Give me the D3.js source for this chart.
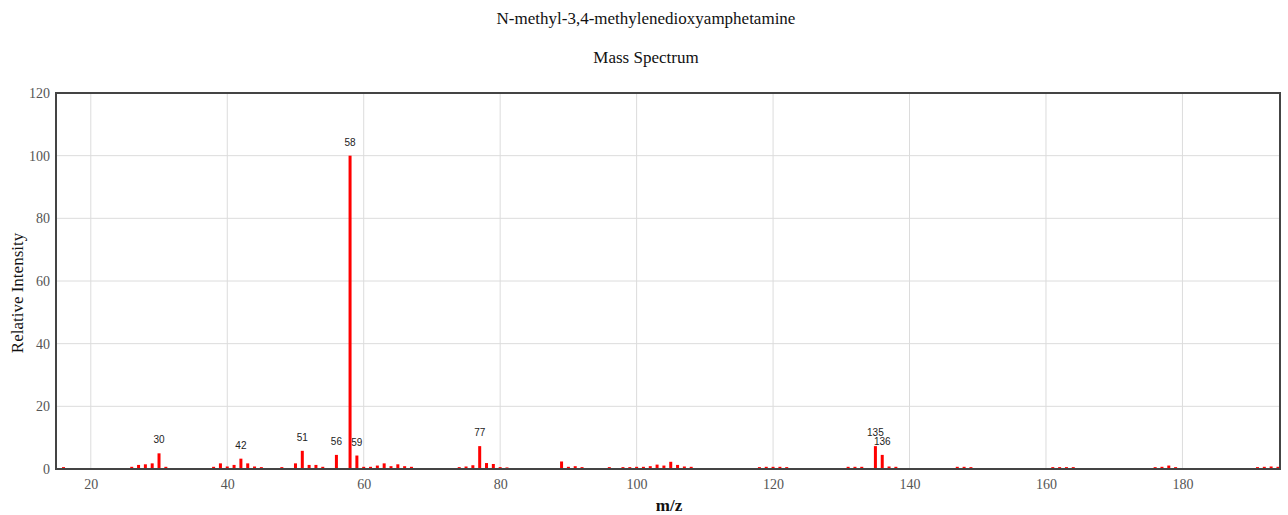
<!DOCTYPE html>
<html>
<head>
<meta charset="utf-8">
<script src="https://cdn.jsdelivr.net/npm/d3@7"></script>
<style>
  body { margin: 0; background: #fff; }
  text { font-family: "Liberation Serif", "Times New Roman", serif; }
</style>
</head>
<body>
<div id="chart"></div>
<script>
//////////////////////////////////////////////////////////////////////////////
// Data

var mz = [16, 26, 27, 28, 29, 30, 31, 38, 39, 40, 41, 42, 43, 44, 45, 48,
          50, 51, 52, 53, 54, 56, 58, 59, 60, 61, 62, 63, 64, 65, 66, 67,
          74, 75, 76, 77, 78, 79, 80, 81, 89, 90, 91, 92, 96,
          98, 99, 100, 101, 102, 103, 104, 105, 106, 107, 108,
          118, 119, 120, 121, 122, 131, 132, 133, 135, 136, 137, 138,
          147, 148, 149, 161, 162, 163, 164, 176, 177, 178, 179,
          191, 192, 193, 194];
var intensity = [0.6, 0.7, 1.3, 1.5, 1.8, 5.0, 0.7, 0.7, 1.8, 0.8, 1.3, 3.3, 1.8, 0.8, 0.6, 0.6,
          1.8, 5.8, 1.3, 1.3, 0.7, 4.5, 100, 4.3, 0.7, 0.7, 1.1, 1.8, 0.9, 1.5, 0.9, 0.7,
          0.6, 0.8, 1.2, 7.3, 1.9, 1.6, 0.6, 0.5, 2.4, 0.7, 0.9, 0.6, 0.6,
          0.6, 0.6, 0.7, 0.7, 0.9, 1.4, 1.1, 2.3, 1.3, 0.8, 0.7,
          0.6, 0.7, 0.7, 0.7, 0.6, 0.7, 0.7, 0.7, 7.3, 4.5, 0.8, 0.7,
          0.7, 0.7, 0.6, 0.6, 0.6, 0.6, 0.6, 0.6, 0.7, 1.1, 0.6,
          0.6, 0.7, 0.8, 0.7];
var labelled = [30, 42, 51, 56, 58, 59, 77, 135, 136];

var xTicks = [20, 40, 60, 80, 100, 120, 140, 160, 180];
var yTicks = [0, 20, 40, 60, 80, 100, 120];

var title = "N-methyl-3,4-methylenedioxyamphetamine";
var subtitle = "Mass Spectrum";

//////////////////////////////////////////////////////////////////////////////
// Layout

var width = 1288, height = 515;
var plot = { left: 56, right: 1280, top: 93, bottom: 469 };

var xScale = d3.scaleLinear().domain([14.9, 194.3]).range([plot.left, plot.right]);
var yScale = d3.scaleLinear().domain([0, 120]).range([plot.bottom, plot.top]);

var peaks = mz.map(function(m, i) { return { mz: m, y: intensity[i] }; });

var svg = d3.select("#chart")
    .append("svg")
    .attr("width", width)
    .attr("height", height);

// titles
svg.append("text")
    .attr("x", 646).attr("y", 24)
    .attr("text-anchor", "middle")
    .style("font-size", "17px")
    .attr("fill", "#111")
    .text(title);

svg.append("text")
    .attr("x", 646).attr("y", 63)
    .attr("text-anchor", "middle")
    .style("font-size", "17px")
    .attr("fill", "#111")
    .text(subtitle);

// grid
var grid = svg.append("g");
grid.selectAll("line.gx")
    .data(xTicks)
    .enter().append("line")
    .attr("x1", function(d) { return xScale(d); })
    .attr("x2", function(d) { return xScale(d); })
    .attr("y1", plot.top).attr("y2", plot.bottom)
    .attr("stroke", "#dcdcdc").attr("stroke-width", 1);
grid.selectAll("line.gy")
    .data(yTicks)
    .enter().append("line")
    .attr("y1", function(d) { return yScale(d); })
    .attr("y2", function(d) { return yScale(d); })
    .attr("x1", plot.left).attr("x2", plot.right)
    .attr("stroke", "#dcdcdc").attr("stroke-width", 1);

// axes (labels only, lines drawn by the frame)
var xAxis = svg.append("g")
    .attr("transform", "translate(0," + plot.bottom + ")")
    .call(d3.axisBottom(xScale).tickValues(xTicks).tickSize(0).tickPadding(10));
var yAxis = svg.append("g")
    .attr("transform", "translate(" + plot.left + ",0)")
    .call(d3.axisLeft(yScale).tickValues(yTicks).tickSize(0).tickPadding(6));
[xAxis, yAxis].forEach(function(a) {
    a.select(".domain").remove();
    a.selectAll("text")
        .style("font-family", "'Liberation Serif', serif")
        .style("font-size", "14px")
        .attr("fill", "#555");
});

// bars
svg.append("g")
    .selectAll("rect")
    .data(peaks)
    .enter().append("rect")
    .attr("x", function(d) { return xScale(d.mz) - 1.5; })
    .attr("y", function(d) { return yScale(d.y); })
    .attr("width", 3)
    .attr("height", function(d) { return plot.bottom - yScale(d.y); })
    .attr("fill", "#ff0000");

// peak labels
svg.append("g")
    .selectAll("text")
    .data(peaks.filter(function(d) { return labelled.indexOf(d.mz) >= 0; }))
    .enter().append("text")
    .attr("x", function(d) { return xScale(d.mz); })
    .attr("y", function(d) { return yScale(d.y) - 10; })
    .attr("text-anchor", "middle")
    .style("font-family", "'Liberation Sans', Arial, sans-serif")
    .style("font-size", "10px")
    .attr("fill", "#222")
    .text(function(d) { return d.mz; });

// frame
svg.append("rect")
    .attr("x", plot.left).attr("y", plot.top)
    .attr("width", plot.right - plot.left)
    .attr("height", plot.bottom - plot.top)
    .attr("fill", "none")
    .attr("stroke", "#444")
    .attr("stroke-width", 2);

// axis titles
svg.append("text")
    .attr("x", 669).attr("y", 511)
    .attr("text-anchor", "middle")
    .style("font-size", "17px")
    .style("font-weight", "bold")
    .attr("fill", "#111")
    .text("m/z");

svg.append("text")
    .attr("transform", "translate(23,293) rotate(-90)")
    .attr("text-anchor", "middle")
    .style("font-size", "17px")
    .attr("fill", "#111")
    .text("Relative Intensity");
</script>
</body>
</html>
